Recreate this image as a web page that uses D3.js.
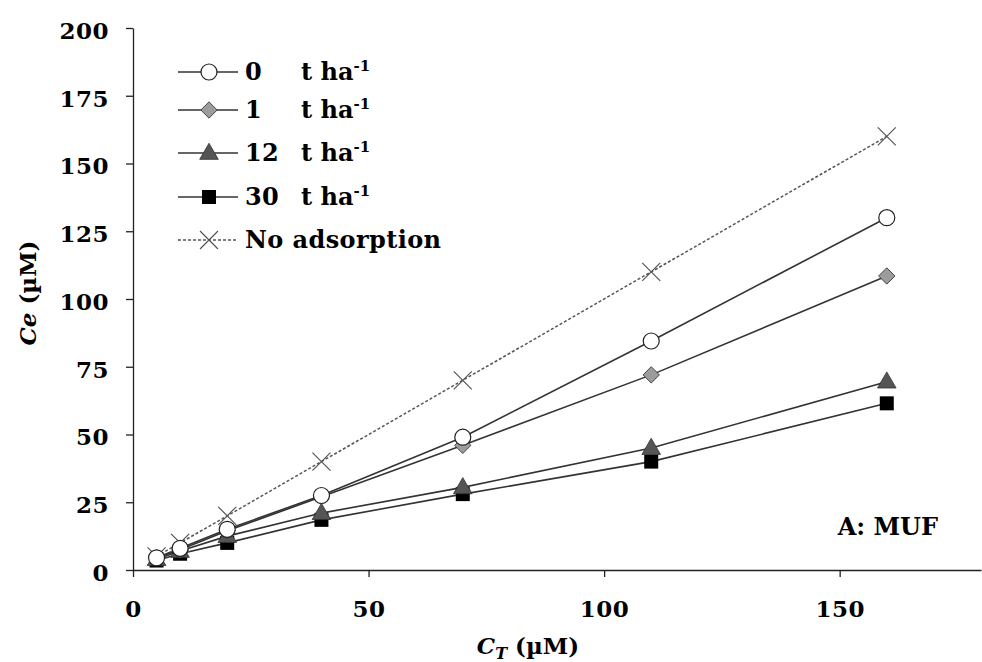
<!DOCTYPE html>
<html><head><meta charset="utf-8">
<script src="https://cdn.jsdelivr.net/npm/d3@7"></script>
<style>body{margin:0;background:#fff}svg text{font-family:"DejaVu Serif",serif;font-weight:bold;fill:#000}</style>
</head><body><svg id="c" width="982" height="662"></svg>
<script>
const xValues = [5, 10, 20, 40, 70, 110, 160];
const seriesNames = ["0", "1", "12", "30", "No adsorption"];
const s0 = [4.5, 8, 15, 27.5, 49, 84.5, 130];
const s1 = [4.5, 7.5, 14.5, 27, 46, 72, 108.5];
const s12 = [4, 7, 12.5, 21, 30.5, 45, 69.5];
const s30 = [3.5, 6, 10, 18.5, 28, 40, 61.5];
const sNo = [5, 10, 20, 40, 70, 110, 160];
const xTicks = [0, 50, 100, 150];
const yTicks = [0, 25, 50, 75, 100, 125, 150, 175, 200];

const svg = d3.select("#c");
const x = d3.scaleLinear().domain([0, 180]).range([133, 981]);
const y = d3.scaleLinear().domain([0, 200]).range([570, 28]);

const xa = svg.append("g").attr("transform", "translate(0,570)")
  .call(d3.axisBottom(x).tickValues(xTicks).tickSize(7).tickSizeOuter(0).tickPadding(24));
const ya = svg.append("g").attr("transform", "translate(133,0)")
  .call(d3.axisLeft(y).tickValues(yTicks).tickSize(7).tickSizeOuter(0).tickPadding(17));
[xa, ya].forEach(a => {
  a.selectAll("path,line").attr("stroke", "#222").attr("stroke-width", 1.3);
  a.selectAll("text").style("font-size", "23px").style("font-family", "'DejaVu Serif',serif").style("font-weight", "bold").style("letter-spacing", "0.5px");
});
ya.selectAll("text").attr("dy", "0.45em");

const styles = [
  {data: s0, sym: "circle", fill: "#fff", dash: null},
  {data: s1, sym: "diamond", fill: "#9c9c9c", dash: null},
  {data: s12, sym: "triangle", fill: "#555", dash: null},
  {data: s30, sym: "square", fill: "#000", dash: null},
  {data: sNo, sym: "x", fill: "none", dash: "3,2"}
];

function drawMarker(g, sym, fill, cx, cy) {
  if (sym === "circle") g.append("circle").attr("cx", cx).attr("cy", cy).attr("r", 8).attr("fill", fill).attr("stroke", "#222").attr("stroke-width", 1.2);
  else if (sym === "diamond") g.append("path").attr("d", d3.symbol(d3.symbolDiamond2, 170)()).attr("transform", `translate(${cx},${cy})`).attr("fill", fill).attr("stroke", "#444").attr("stroke-width", 1);
  else if (sym === "triangle") g.append("path").attr("d", d3.symbol(d3.symbolTriangle, 150)()).attr("transform", `translate(${cx},${cy+1})`).attr("fill", fill).attr("stroke", "#333").attr("stroke-width", 0.8);
  else if (sym === "square") g.append("rect").attr("x", cx-7).attr("y", cy-7).attr("width", 14).attr("height", 14).attr("fill", fill);
  else if (sym === "x") g.append("path").attr("d", `M${cx-9},${cy-9}L${cx+9},${cy+9}M${cx-9},${cy+9}L${cx+9},${cy-9}`).attr("stroke", "#555").attr("stroke-width", 1.2);
}

const line = d3.line().x((d, i) => x(xValues[i])).y(d => y(d));
styles.slice().reverse().forEach(s => {
  svg.append("path").attr("d", line(s.data)).attr("fill", "none")
    .attr("stroke", s.dash ? "#555" : "#333").attr("stroke-width", s.dash ? 1.5 : 1.6)
    .attr("stroke-dasharray", s.dash);
});
styles.slice().reverse().forEach(s => {
  const g = svg.append("g");
  s.data.forEach((d, i) => drawMarker(g, s.sym, s.fill, x(xValues[i]), y(d)));
});

const ly = [72, 110, 153, 197, 240];
const fs = "24px";
styles.forEach((s, i) => {
  const g = svg.append("g");
  g.append("line").attr("x1", 178).attr("x2", 238).attr("y1", ly[i]).attr("y2", ly[i])
    .attr("stroke", s.dash ? "#555" : "#333").attr("stroke-width", 1.5).attr("stroke-dasharray", s.dash);
  drawMarker(g, s.sym, s.fill, 209, ly[i]);
  g.append("text").attr("x", 245).attr("y", ly[i] + 8).style("font-size", fs).style("letter-spacing", "0.4px").text(seriesNames[i]);
  if (i < 4) {
    const t = g.append("text").attr("x", 301).attr("y", ly[i] + 8).style("font-size", fs);
    t.append("tspan").text("t ha");
    t.append("tspan").attr("dy", -9).style("font-size", "15px").text("-1");
  }
});

svg.append("text").attr("x", 938).attr("y", 535).attr("text-anchor", "end").style("font-size", "24px").text("A: MUF");

const xt = svg.append("text").attr("x", 528).attr("y", 654).attr("text-anchor", "middle").style("font-size", "23px");
xt.append("tspan").style("font-style", "italic").text("C");
xt.append("tspan").attr("dy", 5).style("font-size", "16px").style("font-style", "italic").text("T");
xt.append("tspan").attr("dy", -5).text(" (µM)");

const yt = svg.append("text").attr("transform", "translate(36,293) rotate(-90)").attr("text-anchor", "middle").style("font-size", "23px");
yt.append("tspan").style("font-style", "italic").text("Ce");
yt.append("tspan").text(" (µM)");
</script></body></html>
